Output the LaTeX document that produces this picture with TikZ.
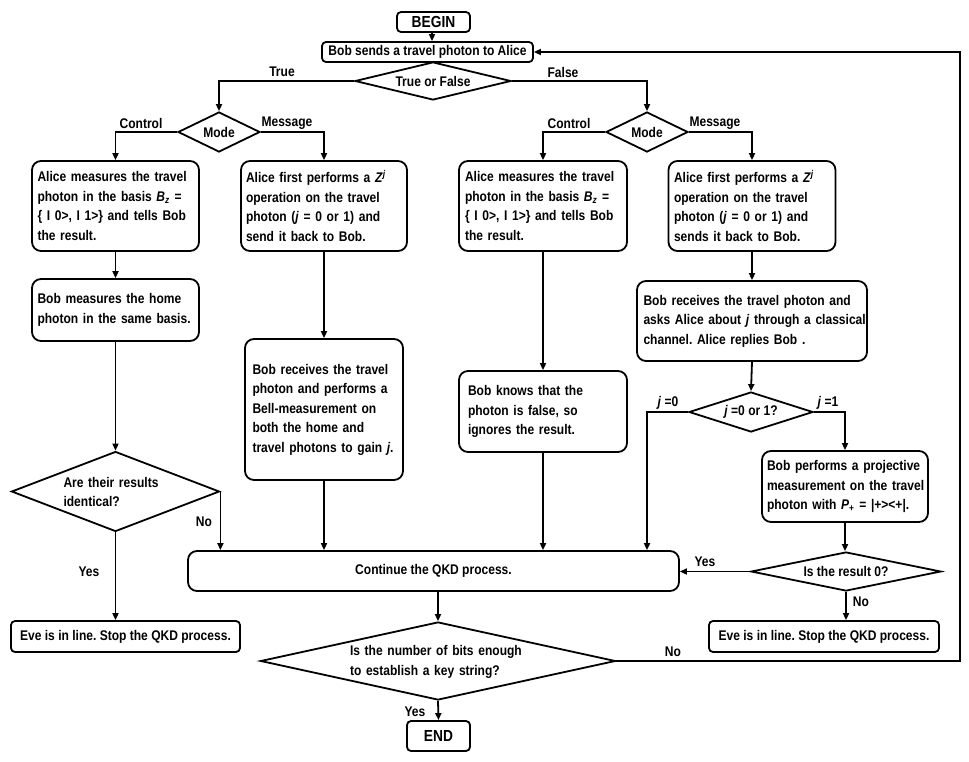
\documentclass[tikz,border=0pt]{standalone}
\usepackage{fontspec}
\setmainfont{Liberation Sans}[FakeStretch=0.86]
\usetikzlibrary{shapes.geometric,arrows.meta}
\newcommand\jl[1]{\makebox[\hsize][s]{#1}\\}
\frenchspacing
\begin{document}
\begin{tikzpicture}[x=1pt,y=-1pt,
  font=\bfseries\fontsize{14}{19.5}\selectfont\frenchspacing,
  box/.style={draw, line width=1.8pt, rounded corners=9pt, inner sep=0pt, align=left},
  sbox/.style={draw, line width=1.8pt, rounded corners=4pt, inner sep=0pt},
  dia/.style={draw, shape=diamond, line width=1.8pt, inner sep=0pt},
  lbl/.style={inner sep=0pt},
  arr/.style={-{Triangle[length=7pt,width=6pt]}, line width=1.8pt},
  ln/.style={line width=1.8pt}]
\useasboundingbox (0,0) rectangle (969,761);

% top
\node[sbox, minimum width=73pt, minimum height=20pt, font=\bfseries\fontsize{16}{18}\selectfont] (begin) at (433.5,22) {BEGIN};
\node[sbox, minimum width=211pt, minimum height=20pt] (sends) at (427.5,52) {Bob sends a travel photon to Alice};
\node[dia, minimum width=156pt, minimum height=38pt] (tf) at (433,81) {};
\node[lbl] (tft) at (tf) {True or False};

\node[dia, minimum width=82pt, minimum height=40pt] (m1) at (219,132) {};
\node[lbl] (m1t) at (m1) {Mode};
\node[dia, minimum width=82pt, minimum height=40pt] (m2) at (647,132) {};
\node[lbl] (m2t) at (m2) {Mode};

% first row boxes
\node[box, minimum width=167pt, minimum height=90pt, text width=156pt] (a1) at (115.5,206) {%
\jl{Alice measures the travel}\jl{photon in the basis \textit{B}\textsubscript{\textit{z}} =}\jl{\{ I 0>, I 1>\} and tells Bob}the result.};
\node[box, minimum width=166pt, minimum height=90pt, text width=156pt] (a2) at (324,206) {%
\jl{Alice first performs a \textit{Z}\textsuperscript{\textit{j}}}\jl{operation on the travel}\jl{photon (\textit{j} = 0 or 1) and}send it back to Bob.};
\node[box, minimum width=168pt, minimum height=90pt, text width=156pt] (a3) at (543,206) {%
\jl{Alice measures the travel}\jl{photon in the basis \textit{B}\textsubscript{\textit{z}} =}\jl{\{ I 0>, I 1>\} and tells Bob}the result.};
\node[box, minimum width=167pt, minimum height=90pt, text width=156pt] (a4) at (752,206) {%
\jl{Alice first performs a \textit{Z}\textsuperscript{\textit{j}}}\jl{operation on the travel}\jl{photon (\textit{j} = 0 or 1) and}sends it back to Bob.};

% second row
\node[box, minimum width=167pt, minimum height=62pt, text width=156pt] (b1) at (115.5,310) {%
\jl{Bob measures the home}photon in the same basis.};
\node[box, minimum width=158pt, minimum height=141pt, text width=143pt] (b2) at (324,409.5) {%
\jl{Bob receives the travel}\jl{photon and performs a}\jl{Bell-measurement on}\jl{both the home and}\mbox{travel photons to gain \textit{j}.}};
\node[box, minimum width=168pt, minimum height=81pt, text width=150pt] (b3) at (543,411.5) {%
\jl{Bob knows that the}\jl{photon is false, so}ignores the result.};
\node[box, minimum width=230pt, minimum height=80pt, text width=217pt] (b4) at (752,321) {%
\jl{Bob receives the travel photon and}\jl{asks Alice about \textit{j} through a classical}channel. Alice replies Bob .};

% j diamond
\node[dia, minimum width=124pt, minimum height=40pt] (dj) at (751,412) {};
\node[lbl] (djt) at (dj) {\textit{j} =0 or 1?};

\node[box, minimum width=166pt, minimum height=71pt, text width=156pt] (c) at (845,486.5) {%
\jl{Bob performs a projective}\jl{measurement on the travel}photon with \textit{P}\textsubscript{+} = |+><+|.};

\node[dia, minimum width=190pt, minimum height=39pt] (dr) at (846,571.5) {};
\node[lbl] (drt) at (dr) {Is the result 0?};

% left diamond
\node[dia, minimum width=208pt, minimum height=80pt] (d1) at (115.5,491.5) {};
\node[lbl, text width=104pt, align=left] (d1t) at (115.5,492) {\jl{Are their results}identical?};

% continue
\node[box, minimum width=491pt, minimum height=40pt] (cont) at (433.5,571) {Continue the QKD process.};

% eve boxes
\node[sbox, minimum width=229pt, minimum height=31pt] (e1) at (125.5,636.5) {Eve is in line. Stop the QKD process.};
\node[sbox, minimum width=230pt, minimum height=31pt] (e2) at (824,636.5) {Eve is in line. Stop the QKD process.};

% bottom diamond
\node[dia, minimum width=355pt, minimum height=78pt] (dn) at (438,661) {};
\node[lbl, text width=177pt, align=left] (dnt) at (438.5,662) {\jl{Is the number of bits enough}to establish a key string?};

\node[sbox, minimum width=63pt, minimum height=30pt, font=\bfseries\fontsize{16}{18}\selectfont] (end) at (438.5,736) {END};

\coordinate (rt) at (960,661);

% connectors
\draw[arr] (begin.south -| sends.north) ++(4.5pt,0) coordinate (bs) -- (bs |- sends.north);
\draw[arr] (tf.west) -| (m1.north);
\draw[arr] (tf.east) -| (m2.north);
\draw[arr] (m1.west) -| (a1.north);
\draw[arr] (m1.east) -| (a2.north);
\draw[arr] (m2.west) -| (a3.north);
\draw[arr] (m2.east) -| (a4.north);
\draw[arr] (a1.south) -- (b1.north);
\draw[arr] (b1.south) -- (d1.north);
\draw[arr] (d1.south) -- (d1.south |- e1.north);
\draw[arr] (d1.east) -- (d1.east |- cont.north);
\draw[arr] (a2.south) -- (b2.north);
\draw[arr] (b2.south) -- (b2.south |- cont.north);
\draw[arr] (a3.south) -- (b3.north);
\draw[arr] (b3.south) -- (b3.south |- cont.north);
\draw[arr] (a4.south) -- (b4.north);
\draw[arr] (b4.south) -- (dj.north);
\draw[arr] (dj.west) -| (m2 |- cont.north);
\draw[arr] (dj.east) -| (c.north);
\draw[arr] (c.south) -- (c.south |- dr.north);
\draw[arr] (dr.west) -- (cont.east |- dr.west);
\draw[arr] (dr.south) -- (dr.south |- e2.north);
\draw[arr] (dn.north |- cont.south) -- (dn.north);
\draw[arr] (dn.south) -- (end.north);
\draw[arr] (dn.east) -- (rt) |- (sends.east);

% labels
\node[lbl] (lTrue) at (282,72) {True};
\node[lbl] (lFalse) at (563,72) {False};
\node[lbl] (lC1) at (141,123) {Control};
\node[lbl] (lM1) at (287,123) {Message};
\node[lbl] (lC2) at (569,123) {Control};
\node[lbl] (lM2) at (715,123) {Message};
\node[lbl] (lj0) at (668,403) {\textit{j} =0};
\node[lbl] (lj1) at (828,403) {\textit{j} =1};
\node[lbl] (lNo1) at (204,522) {No};
\node[lbl] (lYes1) at (89,572) {Yes};
\node[lbl] (lYes2) at (705,562) {Yes};
\node[lbl] (lNo2) at (861,602) {No};
\node[lbl] (lNo3) at (673,652) {No};
\node[lbl] (lYes3) at (415,712) {Yes};
\end{tikzpicture}
\end{document}
